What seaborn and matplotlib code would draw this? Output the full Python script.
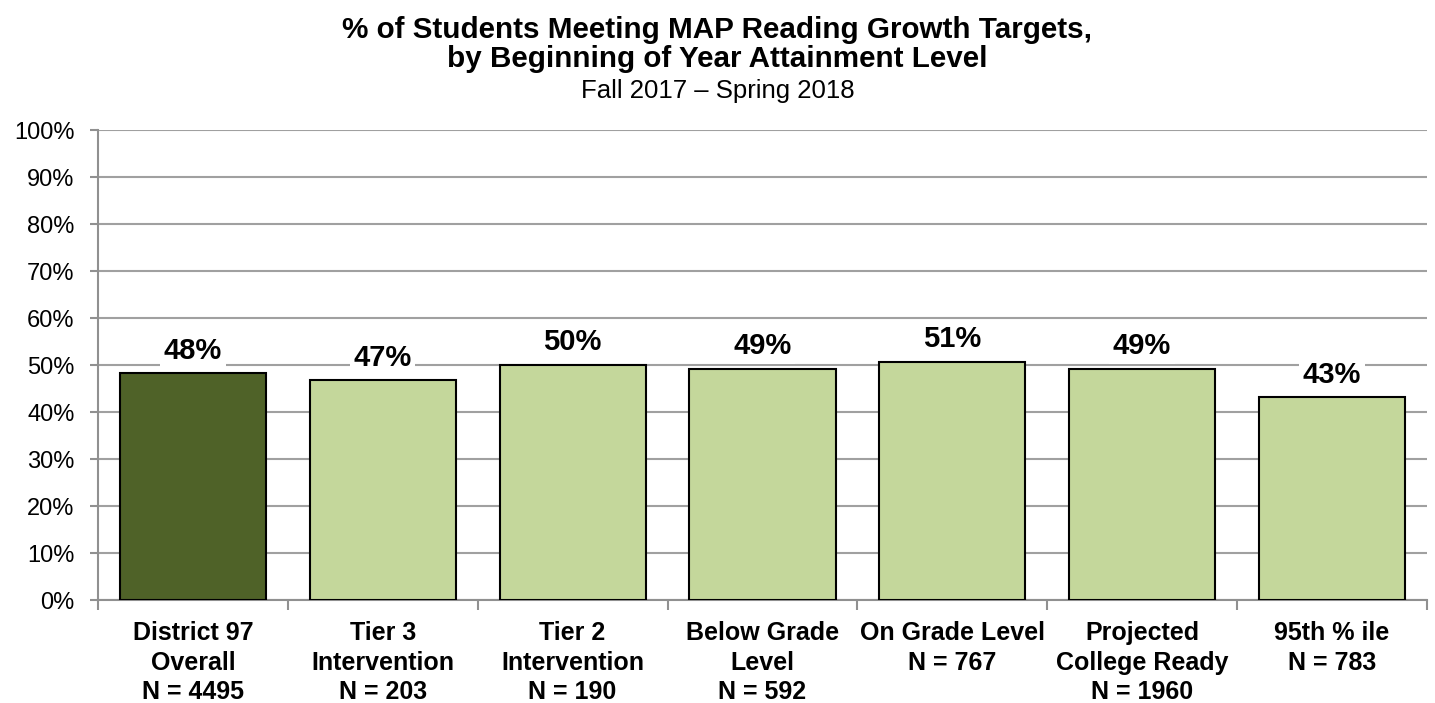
import matplotlib
matplotlib.use("Agg")
import matplotlib.pyplot as plt
import seaborn as sns
import pandas as pd
from matplotlib.ticker import MultipleLocator, FuncFormatter, FixedLocator

categories = ["District 97\nOverall\nN = 4495", "Tier 3\nIntervention\nN = 203",
              "Tier 2\nIntervention\nN = 190", "Below Grade\nLevel\nN = 592",
              "On Grade Level\nN = 767", "Projected\nCollege Ready\nN = 1960",
              "95th % ile\nN = 783"]
values = [48.3, 46.8, 50.1, 49.2, 50.7, 49.2, 43.1]
labels = ["48%", "47%", "50%", "49%", "51%", "49%", "43%"]
groups = ["overall", "sub", "sub", "sub", "sub", "sub", "sub"]

sns.set_theme(style="white")
plt.rcParams['font.family'] = ['Liberation Sans', 'DejaVu Sans']
plt.rcParams['text.color'] = 'black'
plt.rcParams['xtick.color'] = 'black'
plt.rcParams['ytick.color'] = 'black'

df = pd.DataFrame({"cat": categories, "val": values, "grp": groups})

fig = plt.figure(figsize=(14.35, 7.03), dpi=100)
ax = fig.add_axes([0.0683, 0.1465, 0.926, 0.6685])

sns.barplot(data=df, x="cat", y="val", hue="grp", dodge=False,
            palette={"overall": "#4F6228", "sub": "#C4D79B"}, saturation=1,
            edgecolor="black", linewidth=1.5, width=0.77, legend=False, ax=ax, zorder=3)

ax.set_ylim(0, 100)
ax.set_xlim(-0.5, len(categories) - 0.5)
ax.yaxis.set_major_locator(MultipleLocator(10))
ax.yaxis.set_major_formatter(FuncFormatter(lambda v, p: f"{int(v)}%"))
ax.grid(axis="y", color="#A0A0A0", linewidth=1.5, zorder=0)
ax.set_axisbelow(True)
ax.set_xlabel("")
ax.set_ylabel("")

for s in ["top", "right"]:
    ax.spines[s].set_visible(False)
for s in ["left", "bottom"]:
    ax.spines[s].set_color("#909090")
    ax.spines[s].set_linewidth(1.5)

ax.tick_params(axis="y", which="major", direction="out", length=6, width=1.5,
               color="#909090", labelcolor="black", labelsize=17, pad=11, left=True)
ax.set_xticks(range(len(categories)))
ax.set_xticklabels(categories, fontsize=18, fontweight="bold", linespacing=1.3,
                   color="black")
ax.tick_params(axis="x", which="major", length=0, pad=15)
ax.xaxis.set_minor_locator(FixedLocator([i - 0.5 for i in range(len(categories) + 1)]))
ax.tick_params(axis="x", which="minor", direction="out", length=7, width=1.5,
               color="#909090", bottom=True)

for i, (v, lab) in enumerate(zip(values, labels)):
    ax.annotate(lab, xy=(i, v), xytext=(0, 6), textcoords="offset points",
                ha="center", va="bottom", fontsize=21, fontweight="bold", color="black",
                bbox=dict(boxstyle="square,pad=0.12", fc="white", ec="none"), zorder=2.5)

fig.text(0.5, 0.958, "% of Students Meeting MAP Reading Growth Targets,",
         ha="center", va="center", fontsize=21.3, fontweight="bold", color="black")
fig.text(0.5, 0.916, "by Beginning of Year Attainment Level",
         ha="center", va="center", fontsize=21.3, fontweight="bold", color="black")
fig.text(0.5, 0.871, "Fall 2017 \u2013 Spring 2018",
         ha="center", va="center", fontsize=18.5, color="black")

fig.savefig("out.png", dpi=100)
